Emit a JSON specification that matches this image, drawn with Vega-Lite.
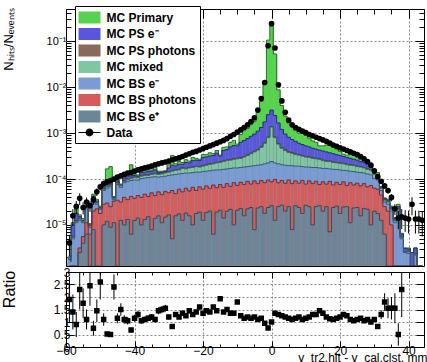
{
"$schema":"https://vega.github.io/schema/vega-lite/v6.json",
"background":"white",
"padding":{"left":0,"top":2,"right":0,"bottom":0},
"spacing":-2,
"config":{"view":{"stroke":"black","strokeWidth":1},"axis":{"labelFont":"Liberation Sans","titleFont":"Liberation Sans","labelColor":"black","titleColor":"black","labelOverlap":false,"labelFlush":false,"labelBound":false,"tickColor":"black","domain":false,"titleFontWeight":"normal","minExtent":0}},
"datasets":{"h":[
{"x":-59,"lo":-59.5,"hi":-58.5,"P":2.14e-6,"PE":2.0e-6,"PP":1.75e-6,"M":1.7e-6,"LB":1.58e-6,"R":0,"S":0,"d":4.07e-6,"de":2.0e-6,"r":1.9,"re":0.9},
{"x":-58,"lo":-58.5,"hi":-57.5,"P":1.12e-5,"PE":1.0e-5,"PP":5.6e-6,"M":5.4e-6,"LB":5.0e-6,"R":0,"S":0,"d":1.58e-5,"de":6.3e-6,"r":1.4,"re":0.7},
{"x":-57,"lo":-57.5,"hi":-56.5,"P":2.82e-5,"PE":1.78e-5,"PP":1.25e-5,"M":1.2e-5,"LB":1.12e-5,"R":0,"S":0,"d":2.51e-5,"de":8e-6,"r":0.9,"re":0.5},
{"x":-56,"lo":-56.5,"hi":-55.5,"P":1.66e-5,"PE":1.51e-5,"PP":1.4e-5,"M":1.35e-5,"LB":1.26e-5,"R":3.16e-6,"S":2.5e-6,"d":3.8e-5,"de":1.1e-5,"r":2.3,"re":0.8},
{"x":-55,"lo":-55.5,"hi":-54.5,"P":1.38e-5,"PE":1.26e-5,"PP":1.24e-5,"M":1.2e-5,"LB":1.12e-5,"R":5.6e-6,"S":4.0e-6,"d":2.4e-5,"de":7e-6,"r":1.75,"re":0.6},
{"x":-54,"lo":-54.5,"hi":-53.5,"P":2.88e-5,"PE":2.63e-5,"PP":2.5e-5,"M":2.4e-5,"LB":2.24e-5,"R":1.12e-5,"S":6.3e-6,"d":3.16e-5,"de":8e-6,"r":1.1,"re":0.4},
{"x":-53,"lo":-53.5,"hi":-52.5,"P":1.07e-5,"PE":1.0e-5,"PP":9.8e-6,"M":9.5e-6,"LB":8.9e-6,"R":6.3e-6,"S":0,"d":2.63e-5,"de":7e-6,"r":2.45,"re":0.8},
{"x":-52,"lo":-52.5,"hi":-51.5,"P":4.68e-5,"PE":4.17e-5,"PP":3.5e-5,"M":3.4e-5,"LB":3.16e-5,"R":2.0e-5,"S":7.9e-6,"d":3.55e-5,"de":8e-6,"r":0.75,"re":0.3},
{"x":-51,"lo":-51.5,"hi":-50.5,"P":3.63e-5,"PE":3.3e-5,"PP":3.1e-5,"M":3.0e-5,"LB":2.82e-5,"R":2.24e-5,"S":0,"d":5.25e-5,"de":1.0e-5,"r":1.45,"re":0.45},
{"x":-50,"lo":-50.5,"hi":-49.5,"P":2.57e-5,"PE":2.4e-5,"PP":2.35e-5,"M":2.3e-5,"LB":2.19e-5,"R":1.78e-5,"S":0,"d":6.76e-5,"de":1.1e-5,"r":2.6,"re":0.7},
{"x":-49,"lo":-49.5,"hi":-48.5,"P":7.24e-5,"PE":6.6e-5,"PP":6.2e-5,"M":6.0e-5,"LB":5.62e-5,"R":2.82e-5,"S":1.0e-5,"d":7.94e-5,"de":1.2e-5,"r":1.1,"re":0.25},
{"x":-48,"lo":-48.5,"hi":-47.5,"P":1.66e-4,"PE":7.94e-5,"PP":7.0e-5,"M":6.8e-5,"LB":6.3e-5,"R":3.0e-5,"S":1.2e-5,"d":8.7e-5,"de":1.3e-5,"r":0.52,"re":0.1},
{"x":-47,"lo":-47.5,"hi":-46.5,"P":1.86e-4,"PE":8.5e-5,"PP":7.5e-5,"M":7.2e-5,"LB":6.8e-5,"R":2.5e-5,"S":8.9e-6,"d":9.3e-5,"de":1.3e-5,"r":0.5,"re":0.1},
{"x":-46,"lo":-46.5,"hi":-45.5,"P":4.17e-5,"PE":3.98e-5,"PP":3.9e-5,"M":3.8e-5,"LB":3.55e-5,"R":3.3e-5,"S":1.12e-5,"d":1.0e-4,"de":1.4e-5,"r":2.4,"re":0.5},
{"x":-45,"lo":-45.5,"hi":-44.5,"P":9.5e-5,"PE":9.1e-5,"PP":8.4e-5,"M":8.1e-5,"LB":7.6e-5,"R":3.47e-5,"S":0,"d":1.1e-4,"de":1.4e-5,"r":1.15,"re":0.2},
{"x":-44,"lo":-44.5,"hi":-43.5,"P":7.76e-5,"PE":7.4e-5,"PP":7.3e-5,"M":7.1e-5,"LB":6.6e-5,"R":3.16e-5,"S":1.26e-5,"d":1.17e-4,"de":1.4e-5,"r":1.5,"re":0.25},
{"x":-43,"lo":-43.5,"hi":-42.5,"P":1.15e-4,"PE":1.05e-4,"PP":9.2e-5,"M":8.9e-5,"LB":8.3e-5,"R":3.98e-5,"S":1.0e-5,"d":1.26e-4,"de":1.4e-5,"r":1.1,"re":0.17},
{"x":-42,"lo":-42.5,"hi":-41.5,"P":1.29e-4,"PE":1.15e-4,"PP":1.01e-4,"M":9.8e-5,"LB":8.9e-5,"R":3.55e-5,"S":1.32e-5,"d":1.35e-4,"de":1.4e-5,"r":1.05,"re":0.15},
{"x":-41,"lo":-41.5,"hi":-40.5,"P":2.04e-4,"PE":1.17e-4,"PP":1.05e-4,"M":1.02e-4,"LB":9.3e-5,"R":4.17e-5,"S":6.3e-6,"d":1.38e-4,"de":1.4e-5,"r":0.68,"re":0.1},
{"x":-40,"lo":-40.5,"hi":-39.5,"P":1.29e-4,"PE":1.2e-4,"PP":1.1e-4,"M":1.07e-4,"LB":9.5e-5,"R":3.8e-5,"S":1.26e-5,"d":1.48e-4,"de":1.4e-5,"r":1.15,"re":0.14},
{"x":-39,"lo":-39.5,"hi":-38.5,"P":1.23e-4,"PE":1.15e-4,"PP":1.1e-4,"M":1.07e-4,"LB":9.5e-5,"R":4.37e-5,"S":1.41e-5,"d":1.58e-4,"de":1.5e-5,"r":1.3,"re":0.15},
{"x":-38,"lo":-38.5,"hi":-37.5,"P":1.58e-4,"PE":1.38e-4,"PP":1.18e-4,"M":1.15e-4,"LB":1.02e-4,"R":3.98e-5,"S":1.0e-5,"d":1.66e-4,"de":1.5e-5,"r":1.05,"re":0.12},
{"x":-37,"lo":-37.5,"hi":-36.5,"P":1.58e-4,"PE":1.41e-4,"PP":1.24e-4,"M":1.2e-4,"LB":1.05e-4,"R":4.68e-5,"S":1.32e-5,"d":1.74e-4,"de":1.5e-5,"r":1.1,"re":0.12},
{"x":-36,"lo":-36.5,"hi":-35.5,"P":1.58e-4,"PE":1.45e-4,"PP":1.24e-4,"M":1.2e-4,"LB":1.07e-4,"R":4.17e-5,"S":1.51e-5,"d":1.82e-4,"de":1.5e-5,"r":1.15,"re":0.12},
{"x":-35,"lo":-35.5,"hi":-34.5,"P":1.58e-4,"PE":1.48e-4,"PP":1.3e-4,"M":1.26e-4,"LB":1.1e-4,"R":5.0e-5,"S":7.9e-6,"d":1.91e-4,"de":1.5e-5,"r":1.2,"re":0.12},
{"x":-34,"lo":-34.5,"hi":-33.5,"P":1.86e-4,"PE":1.58e-4,"PP":1.33e-4,"M":1.29e-4,"LB":1.12e-4,"R":4.37e-5,"S":1.38e-5,"d":2.04e-4,"de":1.6e-5,"r":1.1,"re":0.11},
{"x":-33,"lo":-33.5,"hi":-32.5,"P":1.48e-4,"PE":1.38e-4,"PP":1.3e-4,"M":1.26e-4,"LB":1.1e-4,"R":5.25e-5,"S":1.58e-5,"d":2.14e-4,"de":1.6e-5,"r":1.45,"re":0.14},
{"x":-32,"lo":-32.5,"hi":-31.5,"P":1.48e-4,"PE":1.41e-4,"PP":1.33e-4,"M":1.29e-4,"LB":1.12e-4,"R":4.57e-5,"S":1.12e-5,"d":2.24e-4,"de":1.6e-5,"r":1.5,"re":0.14},
{"x":-31,"lo":-31.5,"hi":-30.5,"P":1.51e-4,"PE":1.45e-4,"PP":1.39e-4,"M":1.35e-4,"LB":1.15e-4,"R":5.37e-5,"S":1.48e-5,"d":2.34e-4,"de":1.6e-5,"r":1.55,"re":0.14},
{"x":-30,"lo":-30.5,"hi":-29.5,"P":2.04e-4,"PE":1.74e-4,"PP":1.45e-4,"M":1.41e-4,"LB":1.2e-4,"R":5.0e-5,"S":1.66e-5,"d":2.45e-4,"de":1.7e-5,"r":1.2,"re":0.1},
{"x":-29,"lo":-29.5,"hi":-28.5,"P":3.24e-4,"PE":2.0e-4,"PP":1.52e-4,"M":1.48e-4,"LB":1.23e-4,"R":5.62e-5,"S":5.0e-6,"d":2.63e-4,"de":1.7e-5,"r":0.82,"re":0.08},
{"x":-28,"lo":-28.5,"hi":-27.5,"P":2.14e-4,"PE":1.91e-4,"PP":1.6e-4,"M":1.55e-4,"LB":1.26e-4,"R":4.79e-5,"S":1.58e-5,"d":2.75e-4,"de":1.7e-5,"r":1.3,"re":0.1},
{"x":-27,"lo":-27.5,"hi":-26.5,"P":2.4e-4,"PE":2.09e-4,"PP":1.63e-4,"M":1.58e-4,"LB":1.29e-4,"R":6.0e-5,"S":1.74e-5,"d":2.88e-4,"de":1.8e-5,"r":1.2,"re":0.1},
{"x":-26,"lo":-26.5,"hi":-25.5,"P":2.29e-4,"PE":2.09e-4,"PP":1.75e-4,"M":1.7e-4,"LB":1.32e-4,"R":5.25e-5,"S":1.26e-5,"d":3.09e-4,"de":1.8e-5,"r":1.35,"re":0.1},
{"x":-25,"lo":-25.5,"hi":-24.5,"P":2.63e-4,"PE":2.29e-4,"PP":1.71e-4,"M":1.66e-4,"LB":1.35e-4,"R":6.3e-5,"S":1.82e-5,"d":3.31e-4,"de":1.8e-5,"r":1.25,"re":0.09},
{"x":-24,"lo":-24.5,"hi":-23.5,"P":2.45e-4,"PE":2.24e-4,"PP":1.79e-4,"M":1.74e-4,"LB":1.35e-4,"R":5.5e-5,"S":1.58e-5,"d":3.55e-4,"de":1.9e-5,"r":1.45,"re":0.1},
{"x":-23,"lo":-23.5,"hi":-22.5,"P":2.95e-4,"PE":2.51e-4,"PP":1.83e-4,"M":1.78e-4,"LB":1.38e-4,"R":6.6e-5,"S":1.0e-5,"d":3.8e-4,"de":1.9e-5,"r":1.3,"re":0.09},
{"x":-22,"lo":-22.5,"hi":-21.5,"P":2.82e-4,"PE":2.57e-4,"PP":1.91e-4,"M":1.86e-4,"LB":1.41e-4,"R":5.62e-5,"S":1.78e-5,"d":3.98e-4,"de":2.0e-5,"r":1.4,"re":0.09},
{"x":-21,"lo":-21.5,"hi":-20.5,"P":2.69e-4,"PE":2.51e-4,"PP":1.87e-4,"M":1.82e-4,"LB":1.41e-4,"R":6.76e-5,"S":1.91e-5,"d":4.27e-4,"de":2.0e-5,"r":1.6,"re":0.1},
{"x":-20,"lo":-20.5,"hi":-19.5,"P":3.39e-4,"PE":2.95e-4,"PP":1.96e-4,"M":1.91e-4,"LB":1.45e-4,"R":6.0e-5,"S":1.26e-5,"d":4.57e-4,"de":2.1e-5,"r":1.35,"re":0.08},
{"x":-19,"lo":-19.5,"hi":-18.5,"P":3.39e-4,"PE":3.02e-4,"PP":2.05e-4,"M":2.0e-4,"LB":1.48e-4,"R":7.08e-5,"S":1.86e-5,"d":4.9e-4,"de":2.2e-5,"r":1.45,"re":0.08},
{"x":-18,"lo":-18.5,"hi":-17.5,"P":3.72e-4,"PE":3.16e-4,"PP":2.15e-4,"M":2.09e-4,"LB":1.51e-4,"R":6.3e-5,"S":2.0e-5,"d":5.25e-4,"de":2.3e-5,"r":1.4,"re":0.08},
{"x":-17,"lo":-17.5,"hi":-16.5,"P":3.55e-4,"PE":3.24e-4,"PP":2.2e-4,"M":2.14e-4,"LB":1.55e-4,"R":7.4e-5,"S":6.3e-6,"d":5.62e-4,"de":2.4e-5,"r":1.6,"re":0.09},
{"x":-16,"lo":-16.5,"hi":-15.5,"P":4.17e-4,"PE":3.63e-4,"PP":2.3e-4,"M":2.24e-4,"LB":1.58e-4,"R":6.46e-5,"S":1.91e-5,"d":6.03e-4,"de":2.5e-5,"r":1.45,"re":0.08},
{"x":-15,"lo":-15.5,"hi":-14.5,"P":3.31e-4,"PE":3.16e-4,"PP":2.35e-4,"M":2.29e-4,"LB":1.58e-4,"R":7.6e-5,"S":2.09e-5,"d":6.46e-4,"de":2.5e-5,"r":1.93,"re":0.1},
{"x":-14,"lo":-14.5,"hi":-13.5,"P":4.9e-4,"PE":4.17e-4,"PP":2.47e-4,"M":2.4e-4,"LB":1.62e-4,"R":6.6e-5,"S":1.41e-5,"d":6.92e-4,"de":2.6e-5,"r":1.4,"re":0.07},
{"x":-13,"lo":-13.5,"hi":-12.5,"P":5.0e-4,"PE":4.37e-4,"PP":2.58e-4,"M":2.51e-4,"LB":1.66e-4,"R":7.94e-5,"S":2.0e-5,"d":7.59e-4,"de":2.8e-5,"r":1.5,"re":0.07},
{"x":-12,"lo":-12.5,"hi":-11.5,"P":6.3e-4,"PE":5.0e-4,"PP":2.65e-4,"M":2.57e-4,"LB":1.7e-4,"R":6.92e-5,"S":2.19e-5,"d":8.5e-4,"de":2.9e-5,"r":1.35,"re":0.06},
{"x":-11,"lo":-11.5,"hi":-10.5,"P":6.92e-4,"PE":5.37e-4,"PP":2.77e-4,"M":2.69e-4,"LB":1.74e-4,"R":8.3e-5,"S":1.0e-5,"d":9.3e-4,"de":3.0e-5,"r":1.35,"re":0.06},
{"x":-10,"lo":-10.5,"hi":-9.5,"P":5.75e-4,"PE":5.25e-4,"PP":2.83e-4,"M":2.75e-4,"LB":1.74e-4,"R":7.24e-5,"S":2.09e-5,"d":1.05e-3,"de":3.2e-5,"r":1.8,"re":0.08},
{"x":-9,"lo":-9.5,"hi":-8.5,"P":9.3e-4,"PE":6.3e-4,"PP":2.9e-4,"M":2.82e-4,"LB":1.78e-4,"R":8.5e-5,"S":2.29e-5,"d":1.17e-3,"de":3.4e-5,"r":1.25,"re":0.05},
{"x":-8,"lo":-8.5,"hi":-7.5,"P":1.15e-3,"PE":6.9e-4,"PP":3.1e-4,"M":3.0e-4,"LB":1.82e-4,"R":7.6e-5,"S":1.58e-5,"d":1.32e-3,"de":3.6e-5,"r":1.15,"re":0.05},
{"x":-7,"lo":-7.5,"hi":-6.5,"P":1.26e-3,"PE":7.6e-4,"PP":3.34e-4,"M":3.24e-4,"LB":1.86e-4,"R":8.9e-5,"S":2.24e-5,"d":1.51e-3,"de":3.9e-5,"r":1.2,"re":0.05},
{"x":-6,"lo":-6.5,"hi":-5.5,"P":1.55e-3,"PE":8.5e-4,"PP":3.65e-4,"M":3.55e-4,"LB":1.91e-4,"R":7.76e-5,"S":2.4e-5,"d":1.78e-3,"de":4.2e-5,"r":1.15,"re":0.04},
{"x":-5,"lo":-5.5,"hi":-4.5,"P":1.78e-3,"PE":9.5e-4,"PP":4.0e-4,"M":3.89e-4,"LB":1.95e-4,"R":9.1e-5,"S":7.9e-6,"d":2.14e-3,"de":4.6e-5,"r":1.2,"re":0.04},
{"x":-4,"lo":-4.5,"hi":-3.5,"P":2.88e-3,"PE":1.1e-3,"PP":4.4e-4,"M":4.27e-4,"LB":2.0e-4,"R":7.94e-5,"S":2.34e-5,"d":3.16e-3,"de":5.6e-5,"r":1.1,"re":0.03},
{"x":-3,"lo":-3.5,"hi":-2.5,"P":4.9e-3,"PE":1.32e-3,"PP":5.0e-4,"M":4.9e-4,"LB":2.04e-4,"R":9.3e-5,"S":2.51e-5,"d":5.62e-3,"de":7.5e-5,"r":1.15,"re":0.03},
{"x":-2,"lo":-2.5,"hi":-1.5,"P":1.32e-2,"PE":1.74e-3,"PP":6.2e-4,"M":6.0e-4,"LB":2.14e-4,"R":8.3e-5,"S":1.78e-5,"d":1.26e-2,"de":1.1e-4,"r":0.95,"re":0.02},
{"x":-1,"lo":-1.5,"hi":-0.5,"P":1.05e-1,"PE":2.51e-3,"PP":8.2e-4,"M":7.94e-4,"LB":2.24e-4,"R":9.5e-5,"S":2.4e-5,"d":7.94e-2,"de":3e-4,"r":0.76,"re":0.01},
{"x":0,"lo":-0.5,"hi":0.5,"P":2.4e-1,"PE":3.16e-3,"PP":1.39e-3,"M":1.35e-3,"LB":2.4e-4,"R":8.7e-5,"S":2.63e-5,"d":2.4e-1,"de":5e-4,"r":1.0,"re":0.01},
{"x":1,"lo":0.5,"hi":1.5,"P":5.25e-2,"PE":2.4e-3,"PP":8.2e-4,"M":7.94e-4,"LB":2.24e-4,"R":9.8e-5,"S":1.26e-5,"d":7.08e-2,"de":2.8e-4,"r":1.35,"re":0.02},
{"x":2,"lo":1.5,"hi":2.5,"P":8.7e-3,"PE":1.66e-3,"PP":5.9e-4,"M":5.75e-4,"LB":2.14e-4,"R":8.3e-5,"S":2.51e-5,"d":1.12e-2,"de":1.1e-4,"r":1.3,"re":0.02},
{"x":3,"lo":2.5,"hi":3.5,"P":3.98e-3,"PE":1.2e-3,"PP":4.8e-4,"M":4.68e-4,"LB":2.04e-4,"R":9.3e-5,"S":2.69e-5,"d":5.0e-3,"de":7e-5,"r":1.25,"re":0.03},
{"x":4,"lo":3.5,"hi":4.5,"P":2.34e-3,"PE":9.5e-4,"PP":4.3e-4,"M":4.17e-4,"LB":2.0e-4,"R":8.1e-5,"S":2.0e-5,"d":2.82e-3,"de":5.3e-5,"r":1.2,"re":0.03},
{"x":5,"lo":4.5,"hi":5.5,"P":1.66e-3,"PE":8.1e-4,"PP":3.9e-4,"M":3.8e-4,"LB":1.95e-4,"R":9.5e-5,"S":2.51e-5,"d":1.91e-3,"de":4.4e-5,"r":1.15,"re":0.04},
{"x":6,"lo":5.5,"hi":6.5,"P":1.38e-3,"PE":7.24e-4,"PP":3.74e-4,"M":3.63e-4,"LB":1.95e-4,"R":7.94e-5,"S":7.9e-6,"d":1.51e-3,"de":3.9e-5,"r":1.1,"re":0.04},
{"x":7,"lo":6.5,"hi":7.5,"P":1.15e-3,"PE":6.6e-4,"PP":3.5e-4,"M":3.39e-4,"LB":1.91e-4,"R":9.1e-5,"S":2.63e-5,"d":1.32e-3,"de":3.6e-5,"r":1.15,"re":0.04},
{"x":8,"lo":7.5,"hi":8.5,"P":1.0e-3,"PE":6.0e-4,"PP":3.41e-4,"M":3.31e-4,"LB":1.91e-4,"R":8.1e-5,"S":2.4e-5,"d":1.2e-3,"de":3.5e-5,"r":1.2,"re":0.05},
{"x":9,"lo":8.5,"hi":9.5,"P":1.0e-3,"PE":5.62e-4,"PP":3.25e-4,"M":3.16e-4,"LB":1.86e-4,"R":9.3e-5,"S":1.78e-5,"d":1.1e-3,"de":3.3e-5,"r":1.1,"re":0.05},
{"x":10,"lo":9.5,"hi":10.5,"P":8.9e-4,"PE":5.25e-4,"PP":3.1e-4,"M":3.0e-4,"LB":1.82e-4,"R":7.76e-5,"S":2.69e-5,"d":1.02e-3,"de":3.2e-5,"r":1.15,"re":0.05},
{"x":11,"lo":10.5,"hi":11.5,"P":7.76e-4,"PE":5.0e-4,"PP":3.04e-4,"M":2.95e-4,"LB":1.82e-4,"R":9.1e-5,"S":2.51e-5,"d":9.3e-4,"de":3.0e-5,"r":1.2,"re":0.05},
{"x":12,"lo":11.5,"hi":12.5,"P":6.76e-4,"PE":4.68e-4,"PP":2.9e-4,"M":2.82e-4,"LB":1.78e-4,"R":7.94e-5,"S":1.0e-5,"d":8.7e-4,"de":3.0e-5,"r":1.3,"re":0.06},
{"x":13,"lo":12.5,"hi":13.5,"P":6.3e-4,"PE":4.47e-4,"PP":2.83e-4,"M":2.75e-4,"LB":1.78e-4,"R":8.9e-5,"S":2.51e-5,"d":8.1e-4,"de":2.9e-5,"r":1.3,"re":0.06},
{"x":14,"lo":13.5,"hi":14.5,"P":5.25e-4,"PE":4.27e-4,"PP":2.77e-4,"M":2.69e-4,"LB":1.74e-4,"R":7.6e-5,"S":2.63e-5,"d":7.59e-4,"de":2.8e-5,"r":1.45,"re":0.07},
{"x":15,"lo":14.5,"hi":15.5,"P":5.25e-4,"PE":4.07e-4,"PP":2.58e-4,"M":2.51e-4,"LB":1.7e-4,"R":8.7e-5,"S":2.0e-5,"d":7.08e-4,"de":2.7e-5,"r":1.35,"re":0.06},
{"x":16,"lo":15.5,"hi":16.5,"P":5.5e-4,"PE":3.89e-4,"PP":2.47e-4,"M":2.4e-4,"LB":1.7e-4,"R":7.76e-5,"S":2.51e-5,"d":6.6e-4,"de":2.6e-5,"r":1.2,"re":0.06},
{"x":17,"lo":16.5,"hi":17.5,"P":5.37e-4,"PE":3.72e-4,"PP":2.47e-4,"M":2.4e-4,"LB":1.66e-4,"R":8.9e-5,"S":7.1e-6,"d":6.03e-4,"de":2.5e-5,"r":1.13,"re":0.06},
{"x":18,"lo":17.5,"hi":18.5,"P":5.0e-4,"PE":3.55e-4,"PP":2.35e-4,"M":2.29e-4,"LB":1.62e-4,"R":7.4e-5,"S":2.4e-5,"d":5.5e-4,"de":2.4e-5,"r":1.1,"re":0.06},
{"x":19,"lo":18.5,"hi":19.5,"P":4.47e-4,"PE":3.39e-4,"PP":2.3e-4,"M":2.24e-4,"LB":1.62e-4,"R":8.5e-5,"S":2.57e-5,"d":5.13e-4,"de":2.3e-5,"r":1.15,"re":0.06},
{"x":20,"lo":19.5,"hi":20.5,"P":3.98e-4,"PE":3.24e-4,"PP":2.25e-4,"M":2.19e-4,"LB":1.58e-4,"R":7.6e-5,"S":1.78e-5,"d":4.79e-4,"de":2.2e-5,"r":1.2,"re":0.07},
{"x":21,"lo":20.5,"hi":21.5,"P":3.47e-4,"PE":3.09e-4,"PP":2.2e-4,"M":2.14e-4,"LB":1.55e-4,"R":8.7e-5,"S":2.45e-5,"d":4.47e-4,"de":2.1e-5,"r":1.3,"re":0.07},
{"x":22,"lo":21.5,"hi":22.5,"P":3.31e-4,"PE":2.95e-4,"PP":2.1e-4,"M":2.04e-4,"LB":1.51e-4,"R":7.24e-5,"S":2.51e-5,"d":4.17e-4,"de":2.0e-5,"r":1.25,"re":0.07},
{"x":23,"lo":22.5,"hi":23.5,"P":3.55e-4,"PE":2.82e-4,"PP":2.05e-4,"M":2.0e-4,"LB":1.48e-4,"R":8.3e-5,"S":1.12e-5,"d":3.89e-4,"de":2.0e-5,"r":1.1,"re":0.07},
{"x":24,"lo":23.5,"hi":24.5,"P":3.47e-4,"PE":2.69e-4,"PP":2.0e-4,"M":1.95e-4,"LB":1.45e-4,"R":7.4e-5,"S":2.34e-5,"d":3.63e-4,"de":1.9e-5,"r":1.05,"re":0.07},
{"x":25,"lo":24.5,"hi":25.5,"P":3.09e-4,"PE":2.57e-4,"PP":1.91e-4,"M":1.86e-4,"LB":1.41e-4,"R":8.1e-5,"S":2.4e-5,"d":3.39e-4,"de":1.8e-5,"r":1.1,"re":0.07},
{"x":26,"lo":25.5,"hi":26.5,"P":2.69e-4,"PE":2.4e-4,"PP":1.87e-4,"M":1.82e-4,"LB":1.38e-4,"R":7.08e-5,"S":1.58e-5,"d":3.09e-4,"de":1.8e-5,"r":1.15,"re":0.08},
{"x":27,"lo":26.5,"hi":27.5,"P":2.63e-4,"PE":2.29e-4,"PP":1.79e-4,"M":1.74e-4,"LB":1.35e-4,"R":7.94e-5,"S":2.29e-5,"d":2.75e-4,"de":1.7e-5,"r":1.05,"re":0.08},
{"x":28,"lo":27.5,"hi":28.5,"P":2.19e-4,"PE":2.09e-4,"PP":1.67e-4,"M":1.62e-4,"LB":1.29e-4,"R":6.76e-5,"S":2.19e-5,"d":2.4e-4,"de":1.6e-5,"r":1.1,"re":0.08},
{"x":29,"lo":28.5,"hi":29.5,"P":2.0e-4,"PE":1.91e-4,"PP":1.6e-4,"M":1.55e-4,"LB":1.23e-4,"R":7.24e-5,"S":1.0e-5,"d":2.0e-4,"de":1.5e-5,"r":1.0,"re":0.09},
{"x":30,"lo":29.5,"hi":30.5,"P":1.38e-4,"PE":1.32e-4,"PP":1.29e-4,"M":1.26e-4,"LB":1.02e-4,"R":6.3e-5,"S":2.0e-5,"d":1.51e-4,"de":1.3e-5,"r":1.1,"re":0.1},
{"x":31,"lo":30.5,"hi":31.5,"P":1.38e-4,"PE":1.26e-4,"PP":1.18e-4,"M":1.15e-4,"LB":9.5e-5,"R":6.0e-5,"S":1.78e-5,"d":1.12e-4,"de":1.1e-5,"r":0.82,"re":0.1},
{"x":32,"lo":31.5,"hi":32.5,"P":6.9e-5,"PE":6.6e-5,"PP":6.3e-5,"M":6.2e-5,"LB":5.62e-5,"R":4.47e-5,"S":1.26e-5,"d":8.9e-5,"de":1.0e-5,"r":1.3,"re":0.18},
{"x":33,"lo":32.5,"hi":33.5,"P":3.89e-5,"PE":3.72e-5,"PP":3.55e-5,"M":3.47e-5,"LB":3.16e-5,"R":2.51e-5,"S":6.3e-6,"d":7.08e-5,"de":9e-6,"r":1.8,"re":0.35},
{"x":34,"lo":33.5,"hi":34.5,"P":3.63e-5,"PE":3.47e-5,"PP":3.24e-5,"M":3.16e-5,"LB":2.82e-5,"R":2.0e-5,"S":0,"d":5.62e-5,"de":8e-6,"r":1.55,"re":0.4},
{"x":35,"lo":34.5,"hi":35.5,"P":2.57e-5,"PE":2.45e-5,"PP":2.24e-5,"M":2.19e-5,"LB":2.0e-5,"R":1.0e-5,"S":0,"d":3.98e-5,"de":7e-6,"r":1.55,"re":0.45},
{"x":36,"lo":35.5,"hi":36.5,"P":1.45e-5,"PE":1.38e-5,"PP":1.26e-5,"M":1.23e-5,"LB":1.12e-5,"R":0,"S":0,"d":2.24e-5,"de":6e-6,"r":1.55,"re":0.6},
{"x":37,"lo":36.5,"hi":37.5,"P":2.82e-5,"PE":2.51e-5,"PP":2.24e-5,"M":2.19e-5,"LB":2.0e-5,"R":0,"S":0,"d":1.41e-5,"de":6e-6,"r":0.5,"re":0.45},
{"x":38,"lo":37.5,"hi":38.5,"P":6.6e-6,"PE":6.3e-6,"PP":5.5e-6,"M":5.4e-6,"LB":5.0e-6,"R":0,"S":0,"d":1.51e-5,"de":7e-6,"r":2.3,"re":1.1},
{"x":39,"lo":38.5,"hi":39.5,"P":3.16e-6,"PE":3.1e-6,"PP":2.65e-6,"M":2.6e-6,"LB":2.51e-6,"R":0,"S":0,"d":1.41e-5,"de":7e-6,"r":null,"re":null},
{"x":40,"lo":39.5,"hi":40.5,"P":3.16e-6,"PE":3.0e-6,"PP":2.7e-6,"M":2.6e-6,"LB":2.4e-6,"R":0,"S":0,"d":1.35e-5,"de":7e-6,"r":null,"re":null},
{"x":41,"lo":40.5,"hi":41.5,"P":2.51e-6,"PE":2.51e-6,"PP":0,"M":0,"LB":0,"R":0,"S":0,"d":2.82e-5,"de":1.2e-5,"r":null,"re":null},
{"x":42,"lo":41.5,"hi":42.5,"P":3.16e-6,"PE":3.16e-6,"PP":2.35e-6,"M":2.3e-6,"LB":2.2e-6,"R":0,"S":0,"d":1.35e-5,"de":7e-6,"r":null,"re":null},
{"x":43,"lo":42.5,"hi":43.5,"P":0,"PE":0,"PP":0,"M":0,"LB":0,"R":0,"S":0,"d":1.35e-5,"de":7e-6,"r":null,"re":null},
{"x":44,"lo":43.5,"hi":44.5,"P":0,"PE":0,"PP":0,"M":0,"LB":0,"R":0,"S":0,"d":1.26e-5,"de":7e-6,"r":null,"re":null}
]},
"vconcat":[
{
"width":358,"height":257,
"data":{"name":"h"},
"layer":[
{"transform":[{"fold":["P","PE","PP","M","LB","R","S"],"as":["comp","level"]}],
"mark":{"type":"rect","clip":true,"x2Offset":0.5},
"encoding":{
"x":{"field":"lo","type":"quantitative","scale":{"domain":[-60,44.5],"nice":false,"zero":false},
"axis":{"orient":"bottom","title":null,"labels":false,"values":[-60,-55,-50,-45,-40,-35,-30,-25,-20,-15,-10,-5,0,5,10,15,20,25,30,35,40],
"tickSize":{"condition":{"test":"datum.value % 20 === 0","value":-9},"value":-5},
"grid":true,"gridColor":"#888","gridDash":[2,2],"gridOpacity":{"condition":{"test":"datum.value % 20 === 0 && datum.value > -60","value":1},"value":0}}},
"x2":{"field":"hi"},
"y":{"field":"level","type":"quantitative","scale":{"type":"log","domain":[1.28e-6,0.5],"nice":false,"clamp":true},
"axis":{"orient":"left","title":"Nₕᵢₜₛ/Nₑᵥₑₙₜₛ","titleFontSize":13,"titleX":-51,"titleY":30,
"values":[2e-6,3e-6,4e-6,5e-6,6e-6,7e-6,8e-6,9e-6,1e-5,2e-5,3e-5,4e-5,5e-5,6e-5,7e-5,8e-5,9e-5,1e-4,2e-4,3e-4,4e-4,5e-4,6e-4,7e-4,8e-4,9e-4,0.001,0.002,0.003,0.004,0.005,0.006,0.007,0.008,0.009,0.01,0.02,0.03,0.04,0.05,0.06,0.07,0.08,0.09,0.1,0.2,0.3,0.4,0.5],
"labelExpr":"datum.value===0.1?'10⁻¹':datum.value===0.01?'10⁻²':datum.value===0.001?'10⁻³':datum.value===1e-4?'10⁻⁴':datum.value===1e-5?'10⁻⁵':''",
"labelFontSize":11,"labelPadding":9,
"tickSize":{"condition":{"test":"datum.value===1e-5||datum.value===1e-4||datum.value===0.001||datum.value===0.01||datum.value===0.1","value":-9},"value":-5},
"grid":true,"gridColor":"#888","gridDash":[2,2],"gridOpacity":{"condition":{"test":"datum.value===1e-5||datum.value===1e-4||datum.value===0.001||datum.value===0.01||datum.value===0.1","value":1},"value":0}}},
"y2":{"datum":1e-7},
"fill":{"field":"comp","type":"nominal","scale":{"domain":["P","PE","PP","M","LB","R","S","Data"],"range":["#56d24f","#5a55dc","#8b6a5e","#7fc7a2","#7b9bd6","#d65b5b","#6b8599","#000000"]},
"legend":{"orient":"none","legendX":9,"legendY":-3,"title":null,"direction":"vertical","columns":1,
"labelExpr":"datum.label==='P'?'MC Primary':datum.label==='PE'?'MC PS e⁻':datum.label==='PP'?'MC PS photons':datum.label==='M'?'MC mixed':datum.label==='LB'?'MC BS e⁻':datum.label==='R'?'MC BS photons':datum.label==='S'?'MC BS e⁺':'Data'",
"labelFont":"Liberation Sans","labelFontWeight":"bold","labelFontSize":12,"labelColor":"black","labelOffset":9.5,
"symbolType":"M-1.63,-0.89H1.63V0.89H-1.63Z","symbolSize":182,"symbolStrokeWidth":0,"symbolOpacity":1,"symbolOffset":3,
"rowPadding":-0.5,"padding":4,"strokeColor":"black","fillColor":"white",
"encode":{"symbols":{"update":{"shape":{"signal":"datum.value==='Data'?'M-1.63,0H1.63M0.49,0A0.49,0.49,0,1,1,-0.49,0A0.49,0.49,0,1,1,0.49,0Z':'M-1.63,-0.89H1.63V0.89H-1.63Z'"},"stroke":{"signal":"datum.value==='Data'?'black':'transparent'"},"strokeWidth":{"value":1.2}}}}}}
}},
{"transform":[{"fold":["P","PE","PP","M","LB","R","S"],"as":["comp","level"]}],
"mark":{"type":"line","interpolate":"step","strokeWidth":1,"clip":true},
"encoding":{
"x":{"field":"x","type":"quantitative","axis":{"orient":"top","title":null,"labels":false,"grid":false,"values":[-60,-55,-50,-45,-40,-35,-30,-25,-20,-15,-10,-5,0,5,10,15,20,25,30,35,40],"tickSize":{"condition":{"test":"datum.value % 20 === 0","value":-9},"value":-5}}},
"y":{"field":"level","type":"quantitative","axis":{"orient":"right","title":null,"labels":false,"grid":false,
"values":[2e-6,3e-6,4e-6,5e-6,6e-6,7e-6,8e-6,9e-6,1e-5,2e-5,3e-5,4e-5,5e-5,6e-5,7e-5,8e-5,9e-5,1e-4,2e-4,3e-4,4e-4,5e-4,6e-4,7e-4,8e-4,9e-4,0.001,0.002,0.003,0.004,0.005,0.006,0.007,0.008,0.009,0.01,0.02,0.03,0.04,0.05,0.06,0.07,0.08,0.09,0.1,0.2,0.3,0.4,0.5],
"tickSize":{"condition":{"test":"datum.value===1e-5||datum.value===1e-4||datum.value===0.001||datum.value===0.01||datum.value===0.1","value":-9},"value":-5}}},
"stroke":{"field":"comp","type":"nominal","scale":{"domain":["P","PE","PP","M","LB","R","S"],"range":["#2a6e27","#2a2880","#4a3830","#3f6e55","#3d5580","#7a2a2a","#3a4a58"]},"legend":null}
}},
{"mark":{"type":"errorbar","ticks":false,"color":"black","thickness":1},
"encoding":{"x":{"field":"x","type":"quantitative","axis":null},"y":{"field":"d","type":"quantitative","axis":null},"yError":{"field":"de"}}},
{"mark":{"type":"point","shape":"circle","filled":true,"size":32,"color":"black","opacity":1},
"encoding":{"x":{"field":"x","type":"quantitative","axis":null},"y":{"field":"d","type":"quantitative","axis":null}}}
]
},
{
"width":358,"height":75,
"data":{"name":"h"},
"layer":[
{"mark":{"type":"errorbar","ticks":false,"color":"black","thickness":1},
"encoding":{
"x":{"field":"x","type":"quantitative","scale":{"domain":[-60,44.5],"nice":false,"zero":false},
"axis":{"orient":"bottom","title":"y_tr2.hit - y_cal.clst, mm","titleFontSize":12,"titleAlign":"right","titleX":361,"titleY":14,"titleBaseline":"alphabetic",
"values":[-60,-55,-50,-45,-40,-35,-30,-25,-20,-15,-10,-5,0,5,10,15,20,25,30,35,40],
"labelExpr":"datum.value % 20 === 0 ? datum.label : ''","labelFontSize":12,"labelPadding":4,
"tickSize":{"condition":{"test":"datum.value % 20 === 0","value":-6},"value":-3},
"grid":true,"gridColor":"#888","gridDash":[2,2],"gridOpacity":{"condition":{"test":"datum.value % 20 === 0 && datum.value > -60","value":1},"value":0}}},
"y":{"field":"r","type":"quantitative","scale":{"domain":[0,3],"nice":false,"clamp":true},
"axis":{"orient":"left","title":"Ratio","titleFontSize":16,"titleX":-49,"titleY":17,"values":[0,0.5,1,1.5,2,2.5,3],"format":"~g","labelFontSize":12,"labelPadding":4,
"tickSize":-8,"grid":true,"gridColor":"#888","gridDash":[2,2],"gridOpacity":{"condition":{"test":"datum.value > 0 && datum.value < 3","value":1},"value":0}}},
"yError":{"field":"re"}}},
{"mark":{"type":"point","shape":"square","filled":true,"size":30,"color":"black","opacity":1},
"encoding":{
"x":{"field":"x","type":"quantitative","axis":{"orient":"top","title":null,"labels":false,"grid":false,"values":[-60,-55,-50,-45,-40,-35,-30,-25,-20,-15,-10,-5,0,5,10,15,20,25,30,35,40],"tickSize":{"condition":{"test":"datum.value % 20 === 0","value":-6},"value":-3}}},
"y":{"field":"r","type":"quantitative","axis":{"orient":"right","title":null,"labels":false,"grid":false,"values":[0,0.5,1,1.5,2,2.5,3],"tickSize":-8}}}}
]
}
]
}
